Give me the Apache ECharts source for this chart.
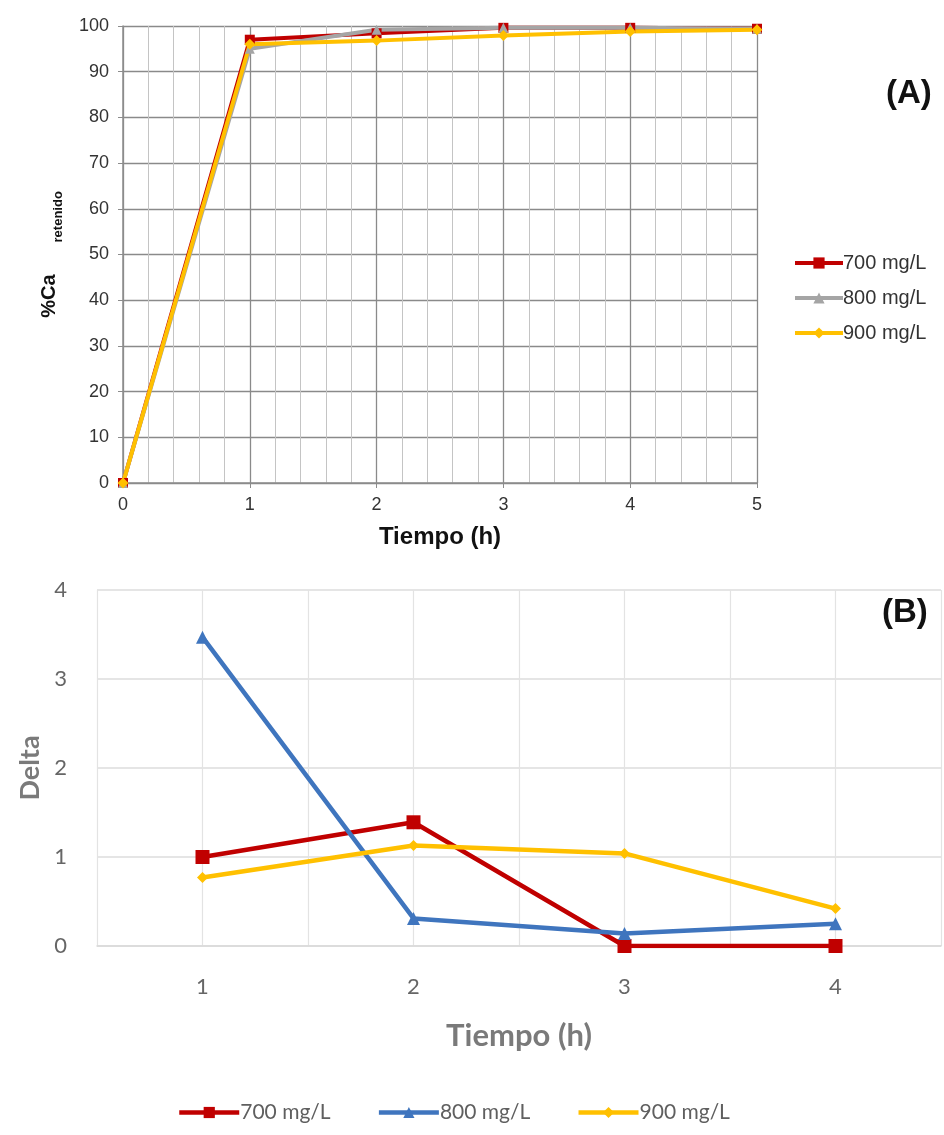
<!DOCTYPE html>
<html>
<head>
<meta charset="utf-8">
<script src="https://cdn.jsdelivr.net/npm/echarts@6/dist/echarts.min.js"></script>
<style>html,body{margin:0;padding:0;background:#fff;}#c{width:944px;height:1135px;}</style>
</head>
<body>
<div id="c"></div>
<script>
// Panel A data
var timesA = [0, 1, 2, 3, 4, 5];
var caA700 = [0, 97.0, 98.4, 99.6, 99.6, 99.4];
var caA800 = [0, 95.0, 99.2, 99.6, 99.6, 99.4];
var caA900 = [0, 96.0, 96.8, 97.9, 98.8, 99.2];
// Panel B data
var timesB = [1, 2, 3, 4];
var d700 = [1.0, 1.39, 0, 0];
var d800 = [3.47, 0.31, 0.14, 0.25];
var d900 = [0.77, 1.13, 1.04, 0.42];
var seriesLabels = ['700 mg/L', '800 mg/L', '900 mg/L'];

function pairs(xs, ys) { return xs.map(function (x, i) { return [x, ys[i]]; }); }
var labelMap = {A700: seriesLabels[0], A800: seriesLabels[1], A900: seriesLabels[2],
                B700: seriesLabels[0], B800: seriesLabels[1], B900: seriesLabels[2]};

var chart = echarts.init(document.getElementById('c'));
var fA = 'Liberation Sans, Arial, sans-serif';
var fB = 'Lato, Open Sans, sans-serif';

function lineA(name, data, color, symbol, size) {
  return {name: name, type: 'line', xAxisIndex: 0, yAxisIndex: 0, data: data,
    symbol: symbol, symbolSize: size, lineStyle: {color: color, width: 4},
    itemStyle: {color: color}, animation: false, z: 3};
}
function lineB(name, data, color, symbol, size) {
  return {name: name, type: 'line', xAxisIndex: 1, yAxisIndex: 1, data: data,
    symbol: symbol, symbolSize: size, lineStyle: {color: color, width: 4.5},
    itemStyle: {color: color}, animation: false, z: 3};
}

chart.setOption({
  animation: false,
  backgroundColor: '#fff',
  grid: [
    {left: 123, top: 26, width: 634, height: 457},
    {left: 97, top: 590, width: 844, height: 356}
  ],
  xAxis: [
    {type: 'value', gridIndex: 0, min: 0, max: 5, interval: 1, splitNumber: 5,
     axisLine: {show: true, onZero: false, lineStyle: {color: '#8c8c8c', width: 1.5}},
     axisTick: {show: true, length: 5, lineStyle: {color: '#8c8c8c'}},
     axisLabel: {fontFamily: fA, fontSize: 18, color: '#333', margin: 13},
     splitLine: {show: true, lineStyle: {color: '#8a8a8a', width: 1.3}},
     minorTick: {show: false, splitNumber: 5},
     minorSplitLine: {show: true, lineStyle: {color: '#c4c4c4', width: 1}},
     name: 'Tiempo (h)', nameLocation: 'middle', nameGap: 42,
     nameTextStyle: {fontFamily: fA, fontSize: 24, fontWeight: 'bold', color: '#111'}},
    {type: 'value', gridIndex: 1, min: 0.5, max: 4.5, interval: 0.5,
     axisLine: {show: true, onZero: false, lineStyle: {color: '#d9d9d9', width: 1.5}},
     axisTick: {show: false},
     axisLabel: {fontFamily: fB, fontSize: 22, color: '#666', margin: 30,
       formatter: function (v) { return Math.abs(v - Math.round(v)) < 1e-6 ? String(Math.round(v)) : ''; }},
     splitLine: {show: true, lineStyle: {color: '#e3e3e3', width: 1.2}},
     name: 'Tiempo (h)', nameLocation: 'middle', nameGap: 74,
     nameTextStyle: {fontFamily: fB, fontSize: 31, fontWeight: 'bold', color: '#7a7a7a'}}
  ],
  yAxis: [
    {type: 'value', gridIndex: 0, min: 0, max: 100, interval: 10,
     axisLine: {show: true, lineStyle: {color: '#8c8c8c', width: 1.5}},
     axisTick: {show: true, length: 5, lineStyle: {color: '#8c8c8c'}},
     axisLabel: {fontFamily: fA, fontSize: 18, color: '#333', margin: 14},
     splitLine: {show: true, lineStyle: {color: '#8a8a8a', width: 1.3}},
     name: '{a|%Ca}{b|retenido}', nameLocation: 'middle', nameGap: 58, nameRotate: 90,
     nameTextStyle: {rich: {
       a: {fontFamily: fA, fontSize: 20, fontWeight: 'bold', color: '#111', verticalAlign: 'bottom', lineHeight: 20, padding: [0, 0, 6, 0]},
       b: {fontFamily: fA, fontSize: 13, fontWeight: 'bold', color: '#111', verticalAlign: 'bottom', lineHeight: 13, padding: [0, 0, 0, 32]}
     }}},
    {type: 'value', gridIndex: 1, min: 0, max: 4, interval: 1,
     axisLine: {show: false}, axisTick: {show: false},
     axisLabel: {fontFamily: fB, fontSize: 22, color: '#666', margin: 30},
     splitLine: {show: true, lineStyle: {color: '#dcdcdc', width: 1.5}},
     name: 'Delta', nameLocation: 'middle', nameGap: 52,
     nameTextStyle: {fontFamily: fB, fontSize: 27, fontWeight: 'bold', color: '#7a7a7a'}}
  ],
  legend: [
    {data: ['A700', 'A800', 'A900'], orient: 'vertical', left: 788, top: 248,
     itemWidth: 48, itemHeight: 14, itemGap: 15,
     lineStyle: {width: 4},
     formatter: function (n) { return labelMap[n]; },
     textStyle: {fontFamily: fA, fontSize: 20, color: '#333', padding: [0, 0, 0, -5]}},
    {data: ['B700', 'B800', 'B900'], orient: 'horizontal', left: 172, top: 1097,
     itemWidth: 60, itemHeight: 14, itemGap: 46,
     lineStyle: {width: 4.5},
     formatter: function (n) { return labelMap[n]; },
     textStyle: {fontFamily: fB, fontSize: 21, color: '#5f5f5f', padding: [0, 0, 0, -4]}}
  ],
  graphic: [
    {type: 'text', left: 886, top: 77, style: {text: '(A)', fontFamily: fA, fontSize: 33, fontWeight: 'bold', fill: '#111'}},
    {type: 'text', left: 882, top: 596, style: {text: '(B)', fontFamily: fA, fontSize: 33, fontWeight: 'bold', fill: '#111'}}
  ],
  series: [
    lineA('A700', pairs(timesA, caA700), '#C00000', 'rect', 10),
    lineA('A800', pairs(timesA, caA800), '#A5A5A5', 'triangle', 10),
    lineA('A900', pairs(timesA, caA900), '#FFC000', 'diamond', 11),
    lineB('B700', pairs(timesB, d700), '#C00000', 'rect', 14),
    lineB('B800', pairs(timesB, d800), '#3F75BE', 'triangle', 13),
    lineB('B900', pairs(timesB, d900), '#FFC000', 'diamond', 11)
  ]
});
</script>
</body>
</html>
